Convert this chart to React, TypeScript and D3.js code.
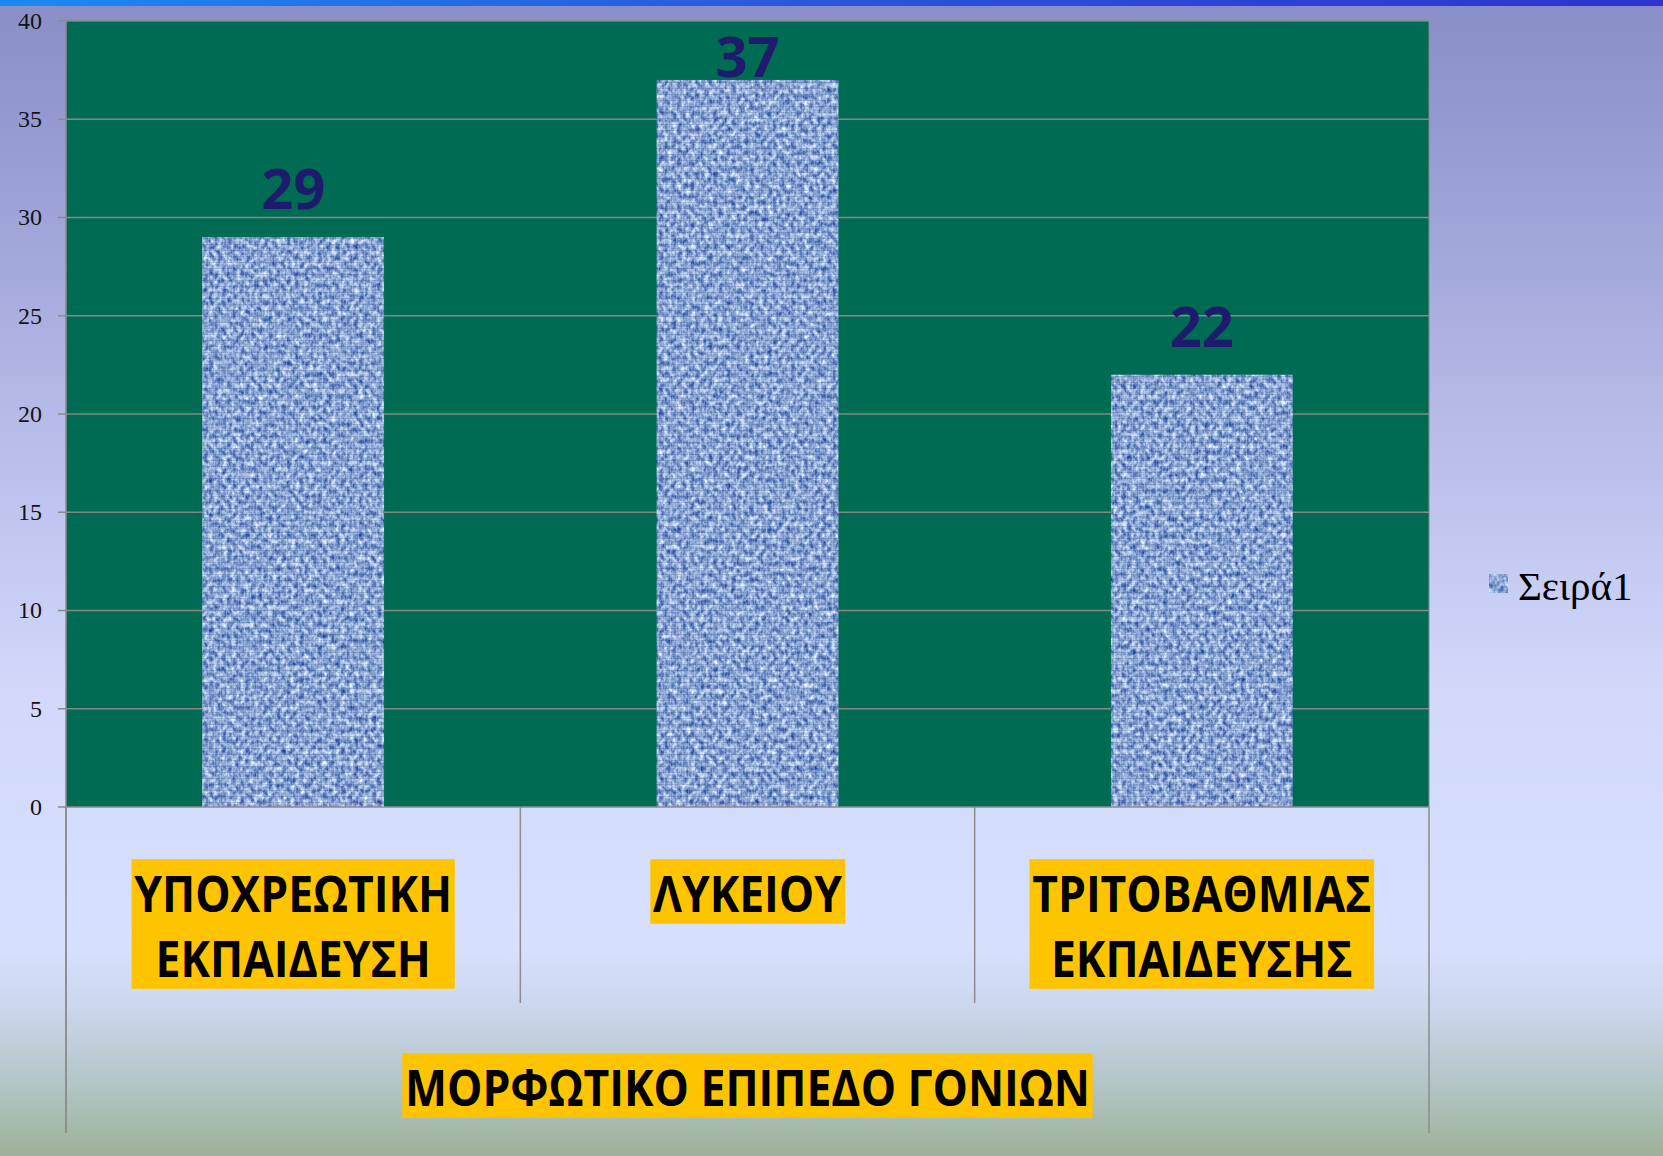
import React, { useEffect, useRef } from "react";
import * as d3 from "d3";

// chart data
const categoryLines: string[][] = [
  ["ΥΠΟΧΡΕΩΤΙΚΗ", "ΕΚΠΑΙΔΕΥΣΗ"],
  ["ΛΥΚΕΙΟΥ"],
  ["ΤΡΙΤΟΒΑΘΜΙΑΣ", "ΕΚΠΑΙΔΕΥΣΗΣ"],
];
const categories = categoryLines.map((l) => l.join(" "));
const values = [29, 37, 22];
const yTicks = [0, 5, 10, 15, 20, 25, 30, 35, 40];
const seriesName = "Σειρά1";
const axisTitle = "ΜΟΡΦΩΤΙΚΟ ΕΠΙΠΕΔΟ ΓΟΝΙΩΝ";

const W = 1663;
const H = 1156;

const App: React.FC = () => {
  const svgRef = useRef<SVGSVGElement>(null);

  useEffect(() => {
    if (!svgRef.current) return;
    const svg = d3.select(svgRef.current);
    svg.selectAll("*").remove();

    const plot = { left: 66, right: 1429, top: 21, bottom: 807 };
    const sx = 0.89; // horizontal squeeze for the bold label font

    const x = d3
      .scaleBand<string>()
      .domain(categories)
      .range([plot.left, plot.right])
      .padding(0);
    const y = d3.scaleLinear().domain([0, 40]).range([plot.bottom, plot.top]);

    const defs = svg.append("defs");

    // background gradient
    const bg = defs
      .append("linearGradient")
      .attr("id", "bg")
      .attr("x1", 0)
      .attr("y1", 0)
      .attr("x2", 0)
      .attr("y2", 1);
    [
      [0, "#898ec6"],
      [0.12, "#969bd2"],
      [0.35, "#b4b9e7"],
      [0.6, "#d2d9fa"],
      [0.82, "#d7e0fe"],
      [0.87, "#cbd7ee"],
      [0.94, "#b3c4c4"],
      [1, "#9db19a"],
    ].forEach(([o, c]) =>
      bg.append("stop").attr("offset", o as number).attr("stop-color", c as string)
    );

    const strip = defs.append("linearGradient").attr("id", "strip");
    strip.append("stop").attr("offset", 0).attr("stop-color", "#1a8af2");
    strip.append("stop").attr("offset", 0.5).attr("stop-color", "#2a55dc");
    strip.append("stop").attr("offset", 1).attr("stop-color", "#2d34cf");

    // woven blue texture for the bars
    const flt = defs
      .append("filter")
      .attr("id", "denim")
      .attr("x", 0)
      .attr("y", 0)
      .attr("width", 1)
      .attr("height", 1)
      .attr("color-interpolation-filters", "sRGB");
    flt
      .append("feTurbulence")
      .attr("type", "fractalNoise")
      .attr("baseFrequency", "0.22 0.18")
      .attr("numOctaves", 3)
      .attr("seed", 7)
      .attr("result", "n");
    flt
      .append("feColorMatrix")
      .attr("in", "n")
      .attr("type", "matrix")
      .attr(
        "values",
        "1.15 0 0 0 -0.04  1.0 0 0 0 0.14  0.55 0 0 0 0.55  0 0 0 0 1"
      )
      .attr("result", "c");
    flt
      .append("feComposite")
      .attr("in", "c")
      .attr("in2", "SourceGraphic")
      .attr("operator", "in");

    const weave = defs
      .append("pattern")
      .attr("id", "weave")
      .attr("patternUnits", "userSpaceOnUse")
      .attr("width", 6)
      .attr("height", 6);
    weave.append("rect").attr("width", 6).attr("height", 6).attr("fill", "none");
    weave
      .append("rect")
      .attr("y", 4)
      .attr("width", 6)
      .attr("height", 1)
      .attr("fill", "#2f4c8c")
      .attr("opacity", 0.25);
    weave
      .append("rect")
      .attr("x", 4)
      .attr("width", 1)
      .attr("height", 6)
      .attr("fill", "#dce8ff")
      .attr("opacity", 0.25);

    svg.append("rect").attr("width", W).attr("height", H).attr("fill", "url(#bg)");
    svg.append("rect").attr("width", W).attr("height", 6).attr("fill", "url(#strip)");

    // plot area
    svg
      .append("rect")
      .attr("x", plot.left)
      .attr("y", plot.top)
      .attr("width", plot.right - plot.left)
      .attr("height", plot.bottom - plot.top)
      .attr("fill", "#006b53");

    // gridlines
    svg
      .append("g")
      .selectAll("line")
      .data(yTicks.filter((t) => t > 0))
      .join("line")
      .attr("x1", plot.left)
      .attr("x2", plot.right)
      .attr("y1", (d) => y(d))
      .attr("y2", (d) => y(d))
      .attr("stroke", "#878787")
      .attr("stroke-width", 1.5);

    svg
      .append("line")
      .attr("x1", plot.right)
      .attr("x2", plot.right)
      .attr("y1", plot.top)
      .attr("y2", plot.bottom)
      .attr("stroke", "#7f8f8a")
      .attr("stroke-width", 1);

    // bars
    const barW = x.bandwidth() * 0.4;
    const bars = svg.append("g");
    categories.forEach((c, i) => {
      const bx = x(c)! + (x.bandwidth() - barW) / 2;
      const by = y(values[i]);
      const bh = y(0) - by;
      bars
        .append("rect")
        .attr("x", bx)
        .attr("y", by)
        .attr("width", barW)
        .attr("height", bh)
        .attr("fill", "#7d98cf")
        .attr("filter", "url(#denim)");
      bars
        .append("rect")
        .attr("x", bx)
        .attr("y", by)
        .attr("width", barW)
        .attr("height", bh)
        .attr("fill", "url(#weave)");
    });

    // value labels
    svg
      .append("g")
      .selectAll("text")
      .data(values)
      .join("text")
      .attr("x", (_, i) => x(categories[i])! + x.bandwidth() / 2)
      .attr("y", (d) => Math.max(y(d) - 28, plot.top + 56))
      .attr("text-anchor", "middle")
      .attr("font-family", "'Open Sans', sans-serif")
      .attr("font-weight", 700)
      .attr("font-size", 56)
      .attr("fill", "#1e1b6c")
      .text((d) => d);

    // value axis
    const axisColor = "#8c8c8c";
    svg
      .append("line")
      .attr("x1", plot.left)
      .attr("x2", plot.left)
      .attr("y1", plot.top)
      .attr("y2", 1133)
      .attr("stroke", axisColor)
      .attr("stroke-width", 1.5);
    svg
      .append("line")
      .attr("x1", plot.left)
      .attr("x2", plot.right)
      .attr("y1", plot.bottom)
      .attr("y2", plot.bottom)
      .attr("stroke", axisColor)
      .attr("stroke-width", 1.5);

    const yAxis = svg.append("g");
    yAxis
      .selectAll("line")
      .data(yTicks)
      .join("line")
      .attr("x1", plot.left - 8)
      .attr("x2", plot.left)
      .attr("y1", (d) => y(d))
      .attr("y2", (d) => y(d))
      .attr("stroke", axisColor)
      .attr("stroke-width", 1.5);
    yAxis
      .selectAll("text")
      .data(yTicks)
      .join("text")
      .attr("x", 42)
      .attr("y", (d) => y(d))
      .attr("dy", "0.33em")
      .attr("text-anchor", "end")
      .attr("font-family", "'Liberation Serif', 'Times New Roman', serif")
      .attr("font-size", 24)
      .attr("fill", "#141414")
      .text((d) => d);

    // category dividers below the axis
    const bounds = [...categories.map((c) => x(c)!), plot.right];
    svg
      .append("g")
      .selectAll("line")
      .data(bounds)
      .join("line")
      .attr("x1", (d) => d)
      .attr("x2", (d) => d)
      .attr("y1", plot.bottom)
      .attr("y2", (_, i) => (i === 0 || i === bounds.length - 1 ? 1133 : 1003))
      .attr("stroke", axisColor)
      .attr("stroke-width", 1.5);

    // highlighted labels (yellow boxes behind text)
    const boxedLabel = (cx: number, baseline: number, lines: string[]) => {
      const g = svg.append("g").attr("transform", `translate(${cx},0) scale(${sx},1)`);
      const t = g
        .append("g")
        .selectAll("text")
        .data(lines)
        .join("text")
        .attr("x", 0)
        .attr("y", (_, i) => baseline + i * 65)
        .attr("text-anchor", "middle")
        .attr("font-family", "'Open Sans', sans-serif")
        .attr("font-weight", 700)
        .attr("font-size", 50)
        .attr("fill", "#000")
        .text((d) => d);
      const node = t.node()!.parentNode as SVGGElement;
      const bb = node.getBBox();
      g.insert("rect", ":first-child")
        .attr("x", bb.x - 3)
        .attr("y", bb.y + 1)
        .attr("width", bb.width + 6)
        .attr("height", bb.height - 4)
        .attr("fill", "#ffc400");
    };

    categories.forEach((c, i) => {
      boxedLabel(x(c)! + x.bandwidth() / 2, 912, categoryLines[i]);
    });
    boxedLabel((plot.left + plot.right) / 2, 1106, [axisTitle]);

    // legend
    const lg = svg.append("g");
    lg.append("rect")
      .attr("x", 1489)
      .attr("y", 574)
      .attr("width", 19)
      .attr("height", 19)
      .attr("fill", "#7d98cf")
      .attr("filter", "url(#denim)");
    lg.append("text")
      .attr("x", 1518)
      .attr("y", 600)
      .attr("font-family", "'Liberation Serif', 'Times New Roman', serif")
      .attr("font-size", 41)
      .attr("fill", "#000")
      .text(seriesName);
  }, []);

  return (
    <svg
      ref={svgRef}
      width={W}
      height={H}
      style={{ position: "absolute", left: 0, top: 0, display: "block" }}
    />
  );
};

export default App;
